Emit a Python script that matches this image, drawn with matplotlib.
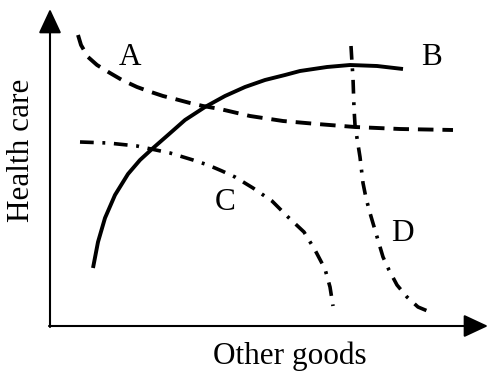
import numpy as np
import matplotlib.pyplot as plt

plt.rcParams['font.family'] = ['Liberation Serif', 'DejaVu Serif']

# curves in axis units (origin at the corner of the two axes)
a_x = [28, 31, 38, 47, 60, 72, 87, 98, 113, 125, 140, 153, 170, 200, 233, 267, 305, 350, 403]
a_y = [291, 281, 269, 261, 253, 246, 239, 235, 230, 227, 223, 220, 217, 210, 205, 202, 199, 197, 196]

b_x = [43, 48, 55, 65, 78, 90, 102, 118, 135, 155, 175, 195, 215, 235, 250, 277, 300, 327, 353]
b_y = [58, 84, 108, 131, 152, 166, 177, 191, 206, 219, 230, 239, 246, 251, 255, 259, 261, 260, 257]

c_x = [30, 58, 87, 120, 143, 158, 172, 185, 203, 222, 238, 254, 265, 275, 280, 283]
c_y = [184, 183, 180, 173, 166, 161, 155, 149, 138, 125, 109, 94, 76, 57, 39, 20]

d_x = [301, 302, 303, 304, 305, 307, 310, 313, 316, 320, 325, 333, 339, 347, 357, 368, 380]
d_y = [280, 263, 248, 218, 201, 188, 169, 143, 128, 113, 96, 69, 56, 41, 29, 19, 14]

labels = ['A', 'B', 'C', 'D']
label_pos = [(80, 269), (382, 269), (175, 124), (352, 93)]

x_end = 438
y_end = 317

fig = plt.figure(figsize=(4.89, 3.74), dpi=100)
ax = fig.add_axes([0, 0, 1, 1])
ax.set_xlim(-50, 439)
ax.set_ylim(-48, 326)
ax.axis('off')

lw = 2.8
ax.plot(a_x, a_y, color='black', lw=lw, dashes=(4.0, 2.3))
ax.plot(b_x, b_y, color='black', lw=lw, solid_capstyle='butt', solid_joinstyle='round')
ax.plot(c_x, c_y, color='black', lw=2.6, dashes=(3.8, 2.4, 0.8, 2.4))
ax.plot(d_x, d_y, color='black', lw=2.6, dashes=(3.8, 2.4, 0.8, 2.4))

# axes with arrow heads
arr = dict(arrowstyle='-|>,head_length=0.75,head_width=0.35', lw=1.5,
           color='black', mutation_scale=20, shrinkA=0, shrinkB=0)
ax.annotate('', xy=(x_end, 0), xytext=(-1, 0), arrowprops=arr)
ax.annotate('', xy=(0, y_end), xytext=(0, -1), arrowprops=arr)

for lab, (lx, ly) in zip(labels, label_pos):
    ax.text(lx, ly, lab, fontsize=22.5, ha='center', va='center')

ax.text(240, -30, 'Other goods', fontsize=22.5, ha='center', va='center')
ax.text(-28, 176, 'Health care', fontsize=22.5, ha='center', va='center', rotation=90)

fig.savefig('out.png', dpi=100)
